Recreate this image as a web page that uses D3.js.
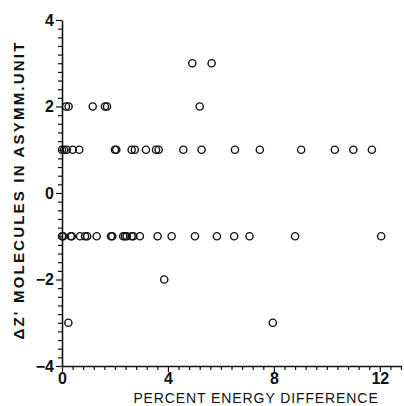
<!DOCTYPE html>
<html>
<head>
<meta charset="utf-8">
<script src="https://cdn.jsdelivr.net/npm/d3@7"></script>
<style>
  body { margin: 0; background: #fff; }
  text { font-family: "Liberation Sans", "DejaVu Sans", sans-serif; fill: #111; }
</style>
</head>
<body>
<div id="chart"></div>
<script>
// energy difference (%) of each structure, grouped by delta Z'
const rowPlus3 = [4.92, 5.65];
const rowPlus2 = [0.15, 0.25, 1.16, 1.62, 1.7, 5.2];
const rowPlus1 = [0.0, 0.08, 0.18, 0.4, 0.65, 2.0, 2.05, 2.63, 2.75, 3.17, 3.55, 3.65,
                  4.58, 5.27, 6.53, 7.47, 9.03, 10.3, 11.0, 11.7];
const rowMinus1 = [0.0, 0.05, 0.33, 0.37, 0.68, 0.87, 0.95, 1.31, 1.85, 1.9, 2.31, 2.38,
                   2.44, 2.63, 2.69, 2.94, 3.61, 4.14, 5.02, 5.85, 6.5, 7.08, 8.8, 12.05];
const rowMinus2 = [3.86];
const rowMinus3 = [0.24, 7.96];

const xMajor = [0, 4, 8, 12];
const yMajor = [-4, -2, 0, 2, 4];

const rows = [
  {dz: 3, xs: rowPlus3}, {dz: 2, xs: rowPlus2}, {dz: 1, xs: rowPlus1},
  {dz: -1, xs: rowMinus1}, {dz: -2, xs: rowMinus2}, {dz: -3, xs: rowMinus3}
];
const points = rows.flatMap(r => r.xs.map(x => ({x: x, y: r.dz})));

const width = 404, height = 406;
const margin = {left: 62, top: 20, right: 3, bottom: 40};

const svg = d3.select('#chart').append('svg')
    .attr('width', width).attr('height', height);

const x = d3.scaleLinear().domain([0, 12.8]).range([margin.left, width - margin.right]);
const y = d3.scaleLinear().domain([-4, 4]).range([height - margin.bottom, margin.top]);

const xMinor = d3.range(0, 12.81, 0.4).map(v => +v.toFixed(1));
const yMinor = d3.range(-4, 4.01, 0.2).map(v => +v.toFixed(1));

// x axis
const gx = svg.append('g').attr('transform', `translate(0,${y(-4)})`)
    .call(d3.axisBottom(x).tickValues(xMinor).tickSizeOuter(0)
        .tickFormat(d => xMajor.includes(d) ? d : ''));
gx.selectAll('.tick line').attr('y2', d => xMajor.includes(d) ? 6 : 4);
gx.selectAll('.tick text').attr('dy', '0.71em').attr('y', 7)
    .style('font-size', '16px').style('font-weight', 'bold');

// y axis
const gy = svg.append('g').attr('transform', `translate(${x(0)},0)`)
    .call(d3.axisLeft(y).tickValues(yMinor).tickSizeOuter(0)
        .tickFormat(d => yMajor.includes(d) ? (d < 0 ? '\u2212' + Math.abs(d) : d) : ''));
gy.selectAll('.tick line').attr('x2', d => yMajor.includes(d) ? -6 : -4);
gy.selectAll('.tick text').attr('x', -8)
    .style('font-size', '16px').style('font-weight', 'bold');

svg.selectAll('.domain').attr('stroke', '#111').attr('stroke-width', 1.6);
svg.selectAll('.tick line').attr('stroke', '#111').attr('stroke-width', 1.2);

// points
svg.append('g').selectAll('circle')
    .data(points)
    .join('circle')
    .attr('cx', d => x(d.x))
    .attr('cy', d => y(d.y))
    .attr('r', 3.6)
    .attr('fill', 'none')
    .attr('stroke', '#111')
    .attr('stroke-width', 1.4);

// axis titles
svg.append('text')
    .attr('x', 256).attr('y', 403)
    .attr('text-anchor', 'middle')
    .style('font-size', '14px')
    .style('letter-spacing', '0.9px')
    .text('PERCENT ENERGY DIFFERENCE');

svg.append('text')
    .attr('transform', 'translate(24,190) rotate(-90)')
    .attr('text-anchor', 'middle')
    .style('font-size', '15px')
    .style('font-weight', 'bold')
    .style('letter-spacing', '2.2px')
    .text('\u0394Z\' MOLECULES IN ASYMM.UNIT');
</script>
</body>
</html>
